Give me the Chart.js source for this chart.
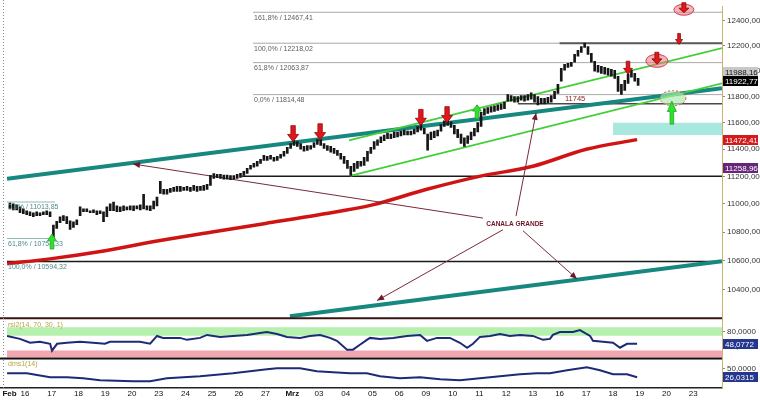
<!DOCTYPE html>
<html><head><meta charset="utf-8">
<script src="https://cdn.jsdelivr.net/npm/chart.js@4"></script>
<style>html,body{margin:0;padding:0;background:#fff;}canvas{display:block;}</style>
</head><body>
<canvas id="c" width="760" height="400"></canvas>
<script>
// ---------- DATA ----------
const dayLabels = ['Feb','16','17','18','19','20','23','24','25','26','27','Mrz','03','04','05','06','09','10','11','12','13','16','17','18','19','20','23'];
const dayLabelPos = [-0.58,0,1,2,3,4,5,6,7,8,9,10,11,12,13,14,15,16,17,18,19,20,21,22,23,24,25];
const xMin = -0.6734, xMax = 26.076;
const firstBarDay = -0.5625, barsPerDay = 8;
// hourly bars [low, high]
const hourlyRange = [
 [10965,11007],[10958,11000],[10958,10993],[10937,10979],[10930,10965],
 [10923,10951],[10916,10944],[10909,10937],[10916,10944],[10916,10937],[10923,10944],[10923,10951],[10909,10944],
 [10762,10850],[10825,10875],[10866,10908],[10880,10916],[10860,10909],[10818,10880],[10832,10873],[10852,10887],
 [10916,10979],[10944,10965],[10944,10965],[10937,10951],[10937,10958],[10923,10951],[10930,10951],[10873,10944],
 [10909,10979],[10951,11000],[10951,11014],[10944,10986],[10944,10979],[10951,10986],[10958,10979],[10958,10986],
 [10951,10986],[10965,10986],[10958,10993],[10965,11070],[10958,10986],[10951,10986],[10965,11021],[10986,11049],
 [11075,11163],[11070,11105],[11070,11105],[11084,11112],[11091,11120],[11091,11127],[11091,11127],[11098,11120],
 [11098,11127],[11091,11120],[11098,11134],[11091,11127],[11098,11127],[11098,11134],[11105,11141],[11134,11207],
 [11185,11220],[11190,11215],[11185,11215],[11180,11210],[11180,11210],[11175,11205],[11180,11205],[11185,11215],
 [11193,11222],[11207,11237],[11222,11259],[11252,11281],[11267,11296],[11274,11311],[11296,11326],[11318,11355],
 [11318,11348],[11326,11355],[11311,11340],[11318,11348],[11333,11363],[11348,11385],[11370,11414],[11407,11443],
 [11428,11465],[11421,11457],[11400,11443],[11385,11421],[11392,11428],[11400,11428],[11414,11450],[11436,11472],
 [11428,11472],[11407,11443],[11392,11428],[11378,11421],[11370,11407],[11355,11392],[11326,11370],[11296,11348],
 [11259,11318],[11207,11274],[11237,11296],[11259,11311],[11274,11311],[11281,11340],[11311,11385],[11370,11414],
 [11400,11457],[11428,11471],[11450,11493],[11464,11507],[11479,11521],[11479,11514],[11486,11529],[11493,11529],
 [11500,11536],[11507,11543],[11507,11536],[11507,11536],[11514,11550],[11529,11571],[11543,11586],[11514,11557],
 [11393,11514],[11471,11529],[11486,11536],[11500,11543],[11536,11586],[11571,11614],[11579,11621],[11564,11607],
 [11514,11579],[11486,11550],[11443,11514],[11421,11486],[11443,11500],[11471,11529],[11500,11557],[11529,11600],
 [11571,11679],[11657,11707],[11671,11714],[11679,11722],[11686,11729],[11693,11736],[11700,11743],[11707,11757],
 [11764,11814],[11764,11807],[11757,11800],[11757,11800],[11771,11807],[11764,11807],[11771,11814],[11779,11829],
 [11757,11814],[11736,11800],[11743,11786],[11743,11786],[11750,11793],[11757,11807],[11784,11839],[11823,11894],
 [11918,12020],[12004,12051],[12027,12059],[12035,12067],[12067,12130],[12114,12161],[12145,12192],[12184,12218],
 [12129,12192],[12067,12137],[11996,12074],[11988,12043],[11980,12035],[11973,12027],[11965,12020],[11957,12012],
 [11941,12004],[11839,11957],[11816,11894],[11847,11926],[11902,11973],[11949,12004],[11918,11980],[11886,11941]
];
const ma200Day = [-0.67,1,3,5,7,9,11,13,15,17,19,21,22.9];
const ma200 = [10579,10614,10669,10738,10800,10861,10923,10993,11104,11200,11274,11400,11472];
const rsiDay = [-0.67,-0.19,0.19,0.56,0.94,1.01,1.20,1.57,2.06,2.54,2.99,3.18,3.82,4.30,4.68,4.94,5.16,5.80,6.06,6.55,6.81,7.30,7.78,8.31,8.79,9.05,9.43,9.80,10.29,10.66,11.04,11.41,11.67,12.05,12.27,12.53,12.79,12.91,13.28,13.77,14.29,14.78,15.04,15.41,15.90,16.27,16.54,16.76,17.02,17.40,17.77,18.14,18.52,19.00,19.38,19.64,19.75,20.01,20.50,20.76,21.14,21.25,21.62,22.00,22.26,22.52,22.75,22.90];
const rsi = [69.3,61.3,50.7,53.3,48,29.3,48,50.7,53.3,50.7,48,53.3,53.3,53.3,48,69.3,64,64,58.7,64,72,66.7,69.3,72,77.3,80,74.7,66.7,64,69.3,72,64,56,32,32,45.3,58.7,64,61.3,64,69.3,72,56,64,64,50.7,37.3,48,66.7,69.3,74.7,69.3,72,69.3,58.7,61.3,72,80,80,85.3,69.3,56,53.3,50.7,37.3,48,48,48.1];
const dmsDay = [-0.67,0.07,0.94,1.57,2.17,2.81,4.04,4.68,5.31,6.55,7.78,9.05,9.43,10.29,10.92,11.52,12.16,12.79,13.28,14.03,14.78,15.53,16.27,17.02,17.77,18.52,19.15,19.64,20.28,21.02,21.51,22.00,22.52,22.90];
const dms = [36.7,36.7,26,26,23.3,18,15.3,15.3,23.3,28.7,36.7,47.3,50,50,42,39.3,36.7,36.7,28.7,23.3,26,20.7,18,23.3,28.7,34,36.7,36.7,44.7,52.7,44.7,34,34,26.0];
const priceTicks = [10400,10600,10800,11000,11200,11400,11600,11800,12000,12200,12400];
const rsiTicks = [40,80];
const dmsTicks = [25,50];
const fibUpperLevels = [12467.41,12218.02,12063.87,11814.48];
const fibUpperPct = ['161,8%','100,0%','61,8%','0,0%'];
const fibUpperStart = 8.53;
const fibLeftLevels = [11013.85,10754.33,10594.32];
const fibLeftPct = ['0,0%','61,8%','100,0%'];
const fibLeftEnd = 1.12;
const level11200 = 11200, level11200Start = 8.12;
const level12218 = 12218.02, level12218Start = 20.0;
const level11745 = 11745, level11745Start = 18.44, label11745Day = 20.2;
const tealUpper = [[-0.6734,11183],[26.076,11863]];
const tealLower = [[9.91,10222],[26.076,10596]];
const greenUpper = [[12.12,11466],[26.076,12179]];
const greenLower = [[12.16,11204],[26.076,11901]];
const calloutText = 'CANALA GRANDE', calloutAt = [18.33,10857];
const calloutLines = [
  [[17.13,10899],[4.04,11291]],
  [[18.37,10913],[19.12,11674]],
  [[17.88,10816],[13.17,10327]],
  [[18.63,10809],[20.65,10474]]
];
const sellSignals = [[10.03,11457],[11.04,11471],[14.81,11579],[15.79,11600],[22.56,11973],[24.47,12208],[23.64,12051],[24.65,12464]];
const buySignals = [[1.01,10786],[16.91,11736],[24.2,11764]];
const markedZones = [[23.64,12078],[24.65,12488],[24.24,11787]];
const targetZone = [22.0,11507,11600];
const rsiUpperBand = [70,93], rsiLowerBand = [11,30];
const mainTags = [11988.16,11922.77,11472.41,11258.96];
const rsiLast = 48.0772, dmsLast = 26.0315;

// ---------- STYLES ----------
const sellSize = [[11,16],[11,16],[11,16],[11,16],[9,13],[7,11],[10,12],[10,10]];
const buySize = [[9,15],[9,14],[9,23]];
const zoneStyle = [[22,13,'rgba(232,120,130,0.55)','#d04050'],[20,11,'rgba(232,120,130,0.55)','#d04050'],[26,15,'rgba(170,232,170,0.65)','#e05050']];
const tagColors = [['#c8c8c8','#111'],['#000','#fff'],['#d41a1a','#fff'],['#66247a','#fff']];
const FONT = '"Liberation Sans", Arial, sans-serif';
const NARROW = '"Liberation Sans Narrow", "Liberation Sans", Arial, sans-serif';

const fmt2 = v => v.toFixed(2).replace('.', ',');
const fmt4 = v => v.toFixed(4).replace('.', ',');
const pts = arr => arr.map(([d,p]) => ({x:d, y:p}));
const seg = (from, level, to = xMax) => [{x:from, y:level},{x:to, y:level}];
const lineDS = (data, color, width, order, extra = {}) => Object.assign({type:'line', data, borderColor:color, borderWidth:width, pointRadius:0, fill:false, order, yAxisID:'y'}, extra);

const datasets = [];
datasets.push({type:'bar', data: hourlyRange.map((r,i) => ({x: firstBarDay + i/barsPerDay, y: r})), backgroundColor:'#161616', barThickness:2, grouped:false, order:1, yAxisID:'y'});
datasets.push(lineDS(seg(xMin, rsiUpperBand[1]), 'rgba(0,0,0,0)', 0, 30, {yAxisID:'yR', fill:{value:rsiUpperBand[0]}, backgroundColor:'#b6f0ae'}));
datasets.push(lineDS(seg(xMin, rsiLowerBand[1]), 'rgba(0,0,0,0)', 0, 30, {yAxisID:'yR', fill:{value:rsiLowerBand[0]}, backgroundColor:'#f2a6b0'}));
datasets.push(lineDS(seg(targetZone[0], targetZone[2]), 'rgba(0,0,0,0)', 0, 30, {fill:{value:targetZone[1]}, backgroundColor:'#a8e8de'}));
fibUpperLevels.forEach(lv => datasets.push(lineDS(seg(fibUpperStart, lv), '#a9a9a9', 1, 20)));
fibLeftLevels.slice(0,2).forEach(lv => datasets.push(lineDS(seg(xMin, lv, fibLeftEnd), '#93b8b8', 1, 20)));
datasets.push(lineDS(seg(xMin, fibLeftLevels[2]), '#1a1a1a', 1.5, 19));
datasets.push(lineDS(seg(level11200Start, level11200), '#1a1a1a', 1.5, 19));
datasets.push(lineDS(seg(level12218Start, level12218), '#5a5a5a', 2, 19));
datasets.push(lineDS(seg(level11745Start, level11745), '#4a4a4a', 1.5, 19));
datasets.push(lineDS(ma200Day.map((d,i)=>({x:d,y:ma200[i]})), '#d01414', 3.5, 8, {cubicInterpolationMode:'monotone'}));
datasets.push(lineDS(pts(tealUpper), '#17887f', 4, 6));
datasets.push(lineDS(pts(tealLower), '#17887f', 4, 6));
datasets.push(lineDS(pts(greenUpper), '#44cf3a', 1.8, 5));
datasets.push(lineDS(pts(greenLower), '#44cf3a', 1.8, 5));
calloutLines.forEach(l => datasets.push(lineDS(pts(l), '#7a2a3a', 1, 4, {arrowHead:true})));
datasets.push(lineDS(rsiDay.map((d,i)=>({x:d,y:rsi[i]})), '#1c2a78', 2, 3, {yAxisID:'yR'}));
datasets.push(lineDS(dmsDay.map((d,i)=>({x:d,y:dms[i]})), '#1c2a78', 2, 3, {yAxisID:'yD'}));

function blockArrow(ctx, x, tipY, w, h, dir, fill, stroke) {
  const hh = h*0.45, sw = w*0.4;
  const baseY = tipY - dir*h, neckY = tipY - dir*hh;
  ctx.beginPath();
  ctx.moveTo(x, tipY);
  ctx.lineTo(x - w/2, neckY); ctx.lineTo(x - sw/2, neckY);
  ctx.lineTo(x - sw/2, baseY); ctx.lineTo(x + sw/2, baseY);
  ctx.lineTo(x + sw/2, neckY); ctx.lineTo(x + w/2, neckY);
  ctx.closePath();
  ctx.fillStyle = fill; ctx.fill();
  if (stroke) { ctx.strokeStyle = stroke; ctx.lineWidth = 0.8; ctx.stroke(); }
}

const overlay = {
  id: 'overlay',
  beforeDraw(chart) { const c = chart.ctx; c.save(); c.fillStyle = '#fff'; c.fillRect(0,0,chart.width,chart.height); c.restore(); },
  afterDatasetsDraw(chart) {
    const {ctx, chartArea: ca} = chart;
    const {x, y, yR, yD} = chart.scales;
    const X = d => x.getPixelForValue(d), Y = p => y.getPixelForValue(p);
    ctx.save();
    chart.data.datasets.forEach((ds, i) => {
      if (!ds.arrowHead) return;
      const p = chart.getDatasetMeta(i).data;
      const a = p[p.length-2], b = p[p.length-1];
      const ang = Math.atan2(b.y-a.y, b.x-a.x);
      ctx.save(); ctx.translate(b.x, b.y); ctx.rotate(ang);
      ctx.beginPath(); ctx.moveTo(0,0); ctx.lineTo(-7,-3); ctx.lineTo(-7,3); ctx.closePath();
      ctx.fillStyle = '#6a1a2a'; ctx.fill(); ctx.restore();
    });
    ctx.textAlign = 'left'; ctx.textBaseline = 'top';
    ctx.font = '7px ' + FONT;
    ctx.fillStyle = '#5c5c5c';
    fibUpperLevels.forEach((lv,i) => ctx.fillText(fibUpperPct[i] + ' / ' + fmt2(lv), X(fibUpperStart)+1, Y(lv)+2));
    ctx.fillStyle = '#4f8a8a';
    fibLeftLevels.forEach((lv,i) => ctx.fillText(fibLeftPct[i] + ' / ' + fmt2(lv), X(xMin)+1, Y(lv)+2));
    ctx.fillStyle = '#8a1a1a'; ctx.font = '7.5px ' + FONT; ctx.textBaseline = 'bottom';
    ctx.fillText(String(level11745), X(label11745Day), Y(level11745)-1);
    ctx.fillStyle = '#6a1424'; ctx.font = 'bold 6.5px ' + FONT; ctx.textAlign = 'center'; ctx.textBaseline = 'middle';
    ctx.fillText(calloutText, X(calloutAt[0]), Y(calloutAt[1]));
    markedZones.forEach(([d,p],i) => {
      const [w,h,f,s] = zoneStyle[i];
      ctx.beginPath(); ctx.ellipse(X(d), Y(p), w/2, h/2, 0, 0, Math.PI*2);
      ctx.fillStyle = f; ctx.fill(); ctx.strokeStyle = s; ctx.lineWidth = 1;
      if (i === 2) ctx.setLineDash([2,2]);
      ctx.stroke(); ctx.setLineDash([]);
    });
    sellSignals.forEach(([d,p],i) => blockArrow(ctx, X(d), Y(p), sellSize[i][0], sellSize[i][1], 1, '#e3161c', '#8a0a0a'));
    buySignals.forEach(([d,p],i) => blockArrow(ctx, X(d), Y(p), buySize[i][0], buySize[i][1], -1, '#2fe02f', '#1fa81f'));
    ctx.textAlign = 'left'; ctx.textBaseline = 'top'; ctx.font = '7px ' + FONT; ctx.fillStyle = '#b4a640';
    ctx.fillText('rsi2(14, 70, 30, 1)', ca.left+1, yR.top+3);
    ctx.fillText('dms1(14)', ca.left+1, yD.top+2);
    ctx.fillStyle = '#3a1414'; ctx.fillRect(0, y.bottom-1, ca.right, 2);
    ctx.fillStyle = '#111'; ctx.fillRect(0, yR.bottom-1, ca.right, 2);
    ctx.fillStyle = '#222'; ctx.fillRect(0, yD.bottom-1, ca.right, 1.5);
    ctx.strokeStyle = '#888'; ctx.lineWidth = 1; ctx.setLineDash([1,2]);
    ctx.beginPath(); ctx.moveTo(3.5, 0); ctx.lineTo(3.5, yD.bottom); ctx.stroke(); ctx.setLineDash([]);
    ctx.restore();
  },
  afterDraw(chart) {
    const {ctx, chartArea: ca} = chart;
    const {y, yR, yD} = chart.scales;
    ctx.save();
    ctx.font = '8px ' + NARROW; ctx.textAlign = 'left'; ctx.textBaseline = 'middle';
    const tag = (py, text, bg, fg) => {
      ctx.fillStyle = bg; ctx.fillRect(ca.right+1, Math.round(py)-5, 35, 10);
      ctx.fillStyle = fg; ctx.fillText(text, ca.right+3, Math.round(py)+0.5);
    };
    mainTags.forEach((v,i) => tag(y.getPixelForValue(v), fmt2(v), tagColors[i][0], tagColors[i][1]));
    tag(yR.getPixelForValue(rsiLast), fmt4(rsiLast), '#24368e', '#fff');
    tag(yD.getPixelForValue(dmsLast), fmt4(dmsLast), '#24368e', '#fff');
    ctx.restore();
  }
};

const rightAxis = (extra) => Object.assign({
  position: 'right', stack: 'panels', bounds: 'data',
  grid: {drawOnChartArea: false, drawTicks: true, tickLength: 3, color: '#8a8a8a'},
  border: {display: true, color: '#c9b46a', dash: [1,1]},
  afterFit: s => { s.width = 38; }
}, extra);

new Chart(document.getElementById('c'), {
  type: 'line',
  data: { datasets },
  plugins: [overlay],
  options: {
    responsive: false, animation: false, events: [],
    layout: { padding: {left: 7, right: 0, top: 0, bottom: 0} },
    plugins: { legend: {display: false}, tooltip: {enabled: false} },
    scales: {
      x: {
        type: 'linear', min: xMin, max: xMax, bounds: 'data', offset: false,
        afterBuildTicks: s => { s.ticks = dayLabelPos.map(v => ({value: v})); },
        afterFit: s => { s.height = 12; },
        grid: {display: false, drawTicks: false, tickLength: 0}, border: {display: false},
        ticks: {
          autoSkip: false, maxRotation: 0, padding: 1, color: '#111',
          callback: (v, i) => dayLabels[i],
          font: c => ({family: FONT, size: 8, weight: (/^[A-Za-z]/.test(dayLabels[c.index] || '') ? 'bold' : 'normal')})
        }
      },
      y: rightAxis({
        type: 'logarithmic', min: 10208.5, max: 12512, stackWeight: 317,
        afterBuildTicks: s => { s.ticks = priceTicks.map(v => ({value: v})); },
        ticks: {autoSkip: false, padding: 2, color: '#333', font: {family: NARROW, size: 8}, callback: v => fmt2(v)}
      }),
      yR: rightAxis({
        type: 'linear', min: 8, max: 117.3, stackWeight: 41,
        afterBuildTicks: s => { s.ticks = rsiTicks.map(v => ({value: v})); },
        ticks: {autoSkip: false, padding: 2, color: '#333', font: {family: NARROW, size: 8}, callback: v => fmt4(v)}
      }),
      yD: rightAxis({
        type: 'linear', min: -3.3, max: 76.7, stackWeight: 30,
        afterBuildTicks: s => { s.ticks = dmsTicks.map(v => ({value: v})); },
        ticks: {autoSkip: false, padding: 2, color: '#333', font: {family: NARROW, size: 8}, callback: v => fmt4(v)}
      })
    }
  }
});
</script>
</body></html>
